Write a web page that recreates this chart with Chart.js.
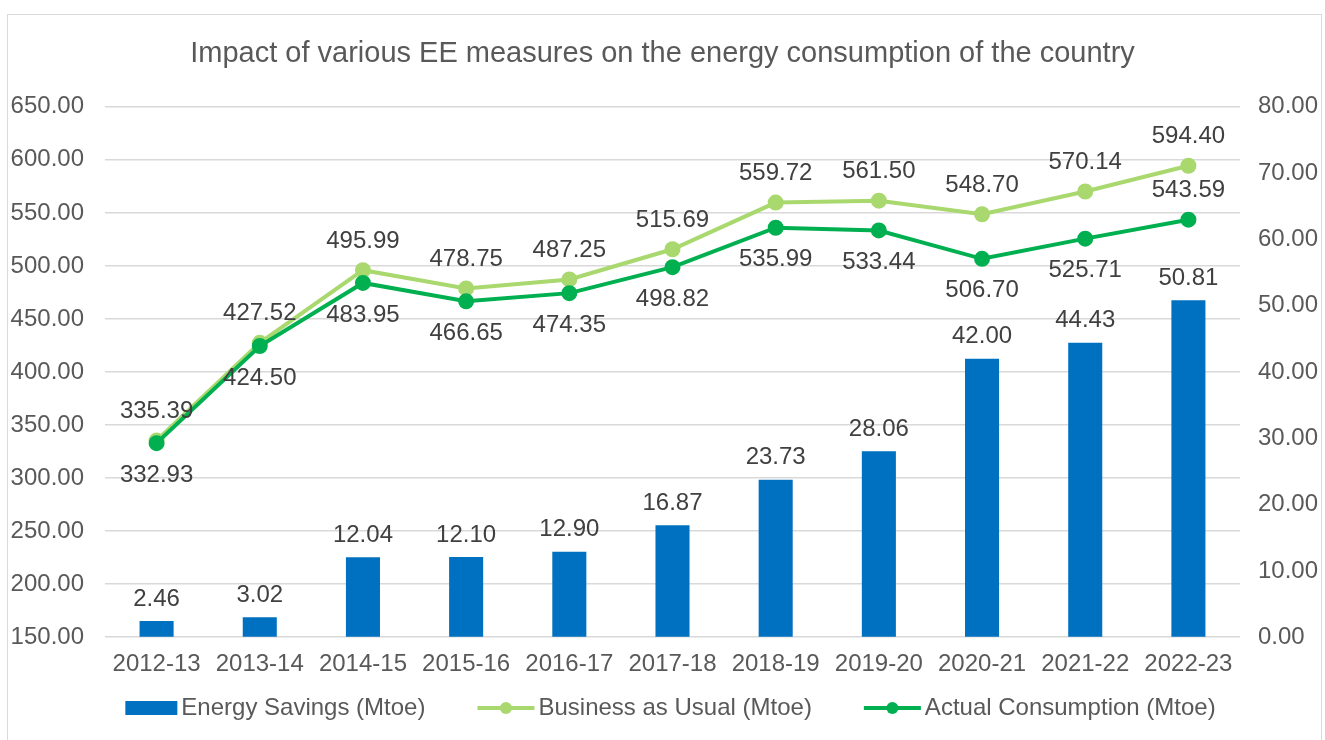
<!DOCTYPE html>
<html>
<head>
<meta charset="utf-8">
<script src="https://cdn.jsdelivr.net/npm/chart.js@4.4.1/dist/chart.umd.min.js"></script>
<style>
  html, body { margin: 0; padding: 0; background: #fff; }
  #frame { position: absolute; left: 7px; top: 14px; width: 1313px; height: 760px; border: 1px solid #d9d9d9; }
  #wrap { position: absolute; left: 0; top: 0; width: 1325px; height: 740px; }
</style>
</head>
<body>
<div id="frame"></div>
<div id="wrap"><canvas id="myChart" width="1325" height="740"></canvas></div>
<script>
// Chart data
const years = ['2012-13', '2013-14', '2014-15', '2015-16', '2016-17', '2017-18',
  '2018-19', '2019-20', '2020-21', '2021-22', '2022-23'];
const energySavings = [2.46, 3.02, 12.04, 12.10, 12.90, 16.87, 23.73, 28.06, 42.00, 44.43, 50.81];
const businessAsUsual = [335.39, 427.52, 495.99, 478.75, 487.25, 515.69, 559.72, 561.50, 548.70, 570.14, 594.40];
const actualConsumption = [332.93, 424.50, 483.95, 466.65, 474.35, 498.82, 535.99, 533.44, 506.70, 525.71, 543.59];

const FONT = "'Liberation Sans', Arial, sans-serif";
const BLUE = '#0070C0';
const LIGHT_GREEN = '#A9D86E';
const GREEN = '#00B050';

// draws the value labels next to bars and points
const valueLabels = {
  id: 'valueLabels',
  afterDatasetsDraw(chart) {
    let g = chart.ctx;
    g.save();
    g.font = '24px ' + FONT;
    g.fillStyle = '#404040';
    g.textAlign = 'center';
    g.textBaseline = 'middle';
    chart.data.datasets.forEach((ds, i) => {
      let meta = chart.getDatasetMeta(i);
      meta.data.forEach((el, j) => {
        let txt = ds.data[j].toFixed(2);
        let pos = ds.labelPos ? ds.labelPos[j] : 'above';
        let y;
        if (ds.type === 'bar') y = el.y - 22;
        else if (pos === 'below') y = el.y + 32;
        else y = el.y - 29;
        g.fillText(txt, el.x, y);
      });
    });
    g.restore();
  }
};

// Excel style legend under the axis (bar box / line with dot)
const bottomLegend = {
  id: 'bottomLegend',
  afterDraw(chart) {
    let g = chart.ctx;
    g.save();
    g.font = '24px ' + FONT;
    g.textBaseline = 'middle';
    let y = 708;
    let items = chart.data.datasets.map(ds => ({
      ds: ds,
      markW: ds.type === 'bar' ? 52 : 57,
      textW: g.measureText(ds.label).width
    }));
    let gap = 52, textGap = 4;
    let total = items.reduce((s, it) => s + it.markW + textGap + it.textW, 0) + gap * (items.length - 1);
    let x = chart.width / 2 + 8 - total / 2;
    items.forEach(it => {
      let c = it.ds.borderColor || it.ds.backgroundColor;
      if (it.ds.type === 'bar') {
        g.fillStyle = it.ds.backgroundColor;
        g.fillRect(x, y - 7, it.markW, 14);
      } else {
        g.strokeStyle = c;
        g.fillStyle = c;
        g.lineWidth = 4;
        g.beginPath();
        g.moveTo(x, y);
        g.lineTo(x + it.markW, y);
        g.stroke();
        g.beginPath();
        g.arc(x + it.markW / 2, y, 6, 0, Math.PI * 2);
        g.fill();
      }
      x += it.markW + textGap;
      g.fillStyle = '#595959';
      g.fillText(it.ds.label, x, y);
      x += it.textW + gap;
    });
    g.restore();
  }
};

let ctx = document.getElementById('myChart');

let myChart = new Chart(ctx, {
  type: 'bar',
  data: {
    labels: years,
    datasets: [{
      type: 'bar',
      label: 'Energy Savings (Mtoe)',
      data: energySavings,
      backgroundColor: BLUE,
      yAxisID: 'y1',
      barPercentage: 0.33,
      categoryPercentage: 1,
      order: 3
    }, {
      type: 'line',
      label: 'Business as Usual (Mtoe)',
      data: businessAsUsual,
      borderColor: LIGHT_GREEN,
      backgroundColor: LIGHT_GREEN,
      borderWidth: 4,
      pointRadius: 6,
      pointHoverRadius: 6,
      yAxisID: 'y',
      order: 2
    }, {
      type: 'line',
      label: 'Actual Consumption (Mtoe)',
      data: actualConsumption,
      borderColor: GREEN,
      backgroundColor: GREEN,
      borderWidth: 4,
      pointRadius: 6,
      pointHoverRadius: 6,
      yAxisID: 'y',
      order: 1,
      labelPos: ['below', 'below', 'below', 'below', 'below', 'below', 'below', 'below', 'below', 'below', 'above']
    }]
  },
  options: {
    responsive: false,
    animation: false,
    layout: { padding: { left: 0, right: 0, top: 0, bottom: 48 } },
    plugins: {
      title: {
        display: true,
        text: 'Impact of various EE measures on the energy consumption of the country',
        color: '#595959',
        font: { family: FONT, size: 29, weight: 'normal' },
        padding: { top: 37, bottom: 35 }
      },
      legend: { display: false },
      tooltip: { enabled: false }
    },
    scales: {
      x: {
        offset: true,
        grid: { display: false, drawTicks: false },
        border: { display: false },
        ticks: { color: '#595959', font: { family: FONT, size: 24 }, padding: 13, maxRotation: 0, autoSkip: false }
      },
      y: {
        position: 'left',
        min: 150,
        max: 650,
        grid: { color: '#d9d9d9', lineWidth: 1.5, drawTicks: false },
        border: { display: false },
        ticks: {
          stepSize: 50,
          color: '#595959',
          font: { family: FONT, size: 24 },
          padding: 21,
          callback: v => v.toFixed(2)
        },
        afterFit(scale) { scale.width = 105; }
      },
      y1: {
        position: 'right',
        min: 0,
        max: 80,
        grid: { drawOnChartArea: false, drawTicks: false },
        border: { display: false },
        ticks: {
          stepSize: 10,
          color: '#595959',
          font: { family: FONT, size: 24 },
          padding: 18,
          callback: v => v.toFixed(2)
        },
        afterFit(scale) { scale.width = 85; }
      }
    }
  },
  plugins: [valueLabels, bottomLegend]
});
</script>
</body>
</html>
